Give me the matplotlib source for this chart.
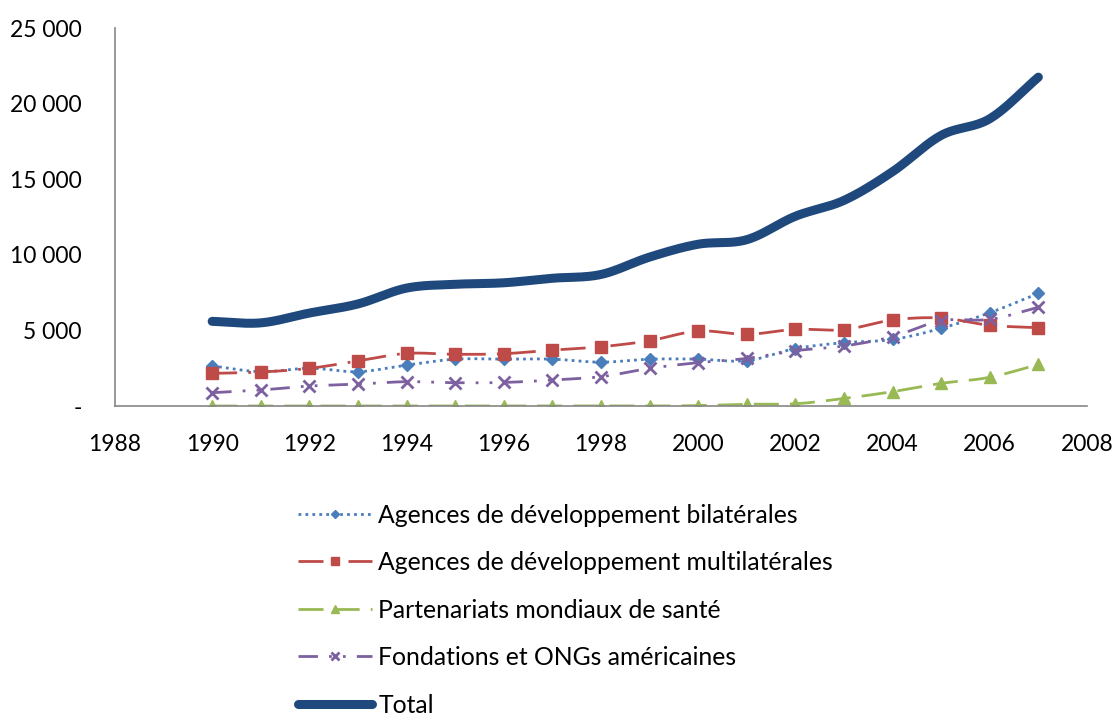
import matplotlib
matplotlib.use("Agg")
import matplotlib.pyplot as plt
import numpy as np
from matplotlib.ticker import FuncFormatter

years = list(range(1990, 2008))
bilaterales = [2650, 2270, 2500, 2270, 2710, 3100, 3100, 3100, 2900, 3100,
               3100, 3000, 3800, 4190, 4400, 5140, 6170, 7450]
multilaterales = [2160, 2250, 2490, 2980, 3480, 3420, 3460, 3700, 3920, 4320,
                  4960, 4740, 5070, 5050, 5690, 5820, 5340, 5180]
partenariats = [0, 0, 0, 0, 0, 0, 0, 0, 0, 0,
                30, 120, 150, 500, 950, 1500, 1900, 2750]
fondations = [880, 1060, 1320, 1450, 1610, 1540, 1560, 1720, 1940, 2490,
              2870, 3150, 3660, 3970, 4590, 5640, 5730, 6530]
total = [5600, 5500, 6150, 6750, 7800, 8050, 8150, 8450, 8700, 9850,
         10700, 11000, 12550, 13600, 15500, 17900, 19000, 21750]

labels = [
    "Agences de développement bilatérales",
    "Agences de développement multilatérales",
    "Partenariats mondiaux de santé",
    "Fondations et ONGs américaines",
    "Total",
]

plt.rcParams["font.family"] = ["Lato", "DejaVu Sans"]


def smooth(x, y, n=20):
    # Catmull-Rom curve through the points, like Excel's smoothed lines
    x = np.asarray(x, float)
    y = np.asarray(y, float)
    px = np.concatenate([[2 * x[0] - x[1]], x, [2 * x[-1] - x[-2]]])
    py = np.concatenate([[2 * y[0] - y[1]], y, [2 * y[-1] - y[-2]]])
    xs, ys = [], []
    t = np.linspace(0, 1, n, endpoint=False)
    for i in range(1, len(px) - 2):
        for p, out in ((px, xs), (py, ys)):
            p0, p1, p2, p3 = p[i - 1], p[i], p[i + 1], p[i + 2]
            out.extend(0.5 * ((2 * p1) + (-p0 + p2) * t
                              + (2 * p0 - 5 * p1 + 4 * p2 - p3) * t ** 2
                              + (-p0 + 3 * p1 - 3 * p2 + p3) * t ** 3))
    xs.append(x[-1])
    ys.append(y[-1])
    return np.array(xs), np.array(ys)


fig = plt.figure(figsize=(11.16, 7.18), dpi=100)
ax = fig.add_axes([0.103, 0.4345, 0.871, 0.5265])

styles = [
    dict(color="#4A7EBB", ls=(0, (1, 1.5)), lw=2, marker="D", ms=6),
    dict(color="#BE4B48", ls=(0, (9, 4, 1, 4)), lw=2, marker="s", ms=8),
    dict(color="#98B954", ls=(0, (9, 4)), lw=2, marker="^", ms=8),
    dict(color="#7D60A0", ls=(0, (7, 4, 1, 4, 1, 4)), lw=2, marker="x", ms=8, mew=2),
    dict(color="#1F497D", ls="-", lw=6.5, marker=None, solid_capstyle="round"),
]
series = [bilaterales, multilaterales, partenariats, fondations, total]

handles = []
for values, st, label in zip(series, styles, labels):
    sx, sy = smooth(years, values)
    color = st["color"]
    line_kw = {k: v for k, v in st.items() if k not in ("marker", "ms", "mew")}
    ax.plot(sx, sy, **line_kw)
    if st["marker"]:
        ax.plot(years, values, ls="none", marker=st["marker"], ms=st["ms"],
                color=color, mew=st.get("mew", 1))
    h, = ax.plot([], [], label=label, **st)
    handles.append(h)

ax.set_xlim(1988, 2008)
ax.set_ylim(0, 25000)
ax.set_xticks(range(1988, 2009, 2))
ax.set_yticks(range(0, 25001, 5000))
ax.yaxis.set_major_formatter(FuncFormatter(
    lambda v, _: "-" if v == 0 else f"{int(v):,}".replace(",", " ")))
ax.tick_params(axis="both", length=0, labelsize=16.5)
ax.tick_params(axis="y", pad=24)
ax.tick_params(axis="x", pad=20)
for side in ("top", "right"):
    ax.spines[side].set_visible(False)
for side in ("left", "bottom"):
    ax.spines[side].set_color("#868686")
    ax.spines[side].set_linewidth(1.2)

fig.legend(handles=handles, loc="upper left", bbox_to_anchor=(0.267, 0.2985),
           frameon=False, fontsize=17.8, handlelength=3.0, handletextpad=0.25,
           labelspacing=0.99, borderpad=0, borderaxespad=0, markerscale=0.75)

fig.savefig("out.png", dpi=100)
